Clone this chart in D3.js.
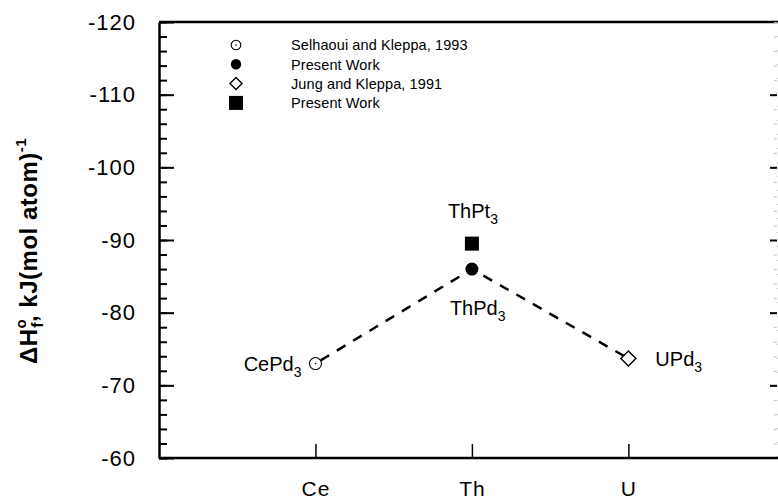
<!DOCTYPE html>
<html>
<head>
<meta charset="utf-8">
<script src="https://cdn.jsdelivr.net/npm/d3@7"></script>
<style>
    body { margin: 0; background: #fff; }
    svg text { font-family: "Liberation Sans", Arial, Helvetica, sans-serif; fill: #000; }
</style>
</head>
<body>
<div id="chart"></div>
<script>
// data
const elements = ["Ce", "Th", "U"];
const elementPos = [1, 2, 3];
const compounds = ["CePd", "ThPd", "UPd"];
const enthalpies = [-73.0, -86.0, -73.7];
const markerTypes = ["dotcircle", "circle", "diamond"];
const ptCompound = "ThPt";
const ptElementPos = 2;
const ptEnthalpy = -89.5;
const legendLabels = ["Selhaoui and Kleppa, 1993", "Present  Work", "Jung and Kleppa, 1991", "Present  Work"];
const legendMarkers = ["dotcircle", "circle", "diamond", "square"];
const yMajorTicks = [-120, -110, -100, -90, -80, -70, -60];
const yMinorTicks = d3.range(-120, -59, 2);

const W = 778, H = 502;
const svg = d3.select("#chart").append("svg")
    .attr("width", W)
    .attr("height", H);

const x = d3.scaleLinear().domain([0, 3.95]).range([159, 777]);
const y = d3.scaleLinear().domain([-120, -60]).range([22, 458]);

// marker drawing
function drawMarker(g, type, cx, cy, big) {
    let s = big ? 1 : 0.8;
    if (type === "dotcircle") {
        g.append("circle").attr("cx", cx).attr("cy", cy).attr("r", 6 * s)
            .attr("fill", "#fff").attr("stroke", "#000").attr("stroke-width", 1.1);
        g.append("circle").attr("cx", cx).attr("cy", cy).attr("r", 0.8)
            .attr("fill", "#000");
    } else if (type === "circle") {
        g.append("circle").attr("cx", cx).attr("cy", cy).attr("r", 6.5 * s)
            .attr("fill", "#000");
    } else if (type === "diamond") {
        let r = 7.5 * s;
        g.append("path")
            .attr("d", `M${cx},${cy - r}L${cx + r},${cy}L${cx},${cy + r}L${cx - r},${cy}Z`)
            .attr("fill", "#fff").attr("stroke", "#000").attr("stroke-width", 1.4);
    } else if (type === "square") {
        let h = 7;
        g.append("rect").attr("x", cx - h).attr("y", cy - h)
            .attr("width", 2 * h).attr("height", 2 * h).attr("fill", "#000");
    }
}

// frame: top and faint right edge
svg.append("line").attr("x1", 159).attr("x2", W).attr("y1", 22).attr("y2", 22)
    .attr("stroke", "#000").attr("stroke-width", 2.5);
svg.append("line").attr("x1", 777).attr("x2", 777).attr("y1", 22).attr("y2", 458)
    .attr("stroke", "#bbb").attr("stroke-width", 1).attr("stroke-dasharray", "1,13");

// left axis: minor + major ticks inward
let yMinor = d3.axisLeft(y).tickValues(yMinorTicks).tickSizeInner(-8).tickSizeOuter(0).tickFormat("");
let yMajor = d3.axisLeft(y).tickValues(yMajorTicks).tickSizeInner(-15).tickSizeOuter(0).tickPadding(23)
    .tickFormat(d => String(d));

let gyMinor = svg.append("g").attr("transform", "translate(159,0)").call(yMinor);
let gy = svg.append("g").attr("transform", "translate(159,0)").call(yMajor);
gy.select(".domain").attr("stroke-width", 2.5);
gyMinor.select(".domain").remove();
svg.selectAll(".tick line").attr("stroke-width", 2);
gy.selectAll("text")
    .attr("font-size", 22)
    .style("letter-spacing", "1px");

// right axis ticks (pointing inward)
let rMinor = d3.axisRight(y).tickValues(yMinorTicks).tickSizeInner(-3).tickSizeOuter(0).tickFormat("");
let rMajor = d3.axisRight(y).tickValues(yMajorTicks.slice(1, -1)).tickSizeInner(-7).tickSizeOuter(0).tickFormat("");
let grMinor = svg.append("g").attr("transform", "translate(777,0)").call(rMinor);
grMinor.select(".domain").remove();
grMinor.selectAll("line").attr("stroke", "#bbb").attr("stroke-width", 1);
let grMajor = svg.append("g").attr("transform", "translate(777,0)").call(rMajor);
grMajor.select(".domain").remove();
grMajor.selectAll("line").attr("stroke-width", 2);

// bottom axis
let xAxis = d3.axisBottom(x).tickValues(elementPos).tickSizeInner(-14).tickSizeOuter(0).tickPadding(23)
    .tickFormat((d, i) => elements[i]);
let gx = svg.append("g").attr("transform", "translate(0,458)").call(xAxis);
gx.select(".domain").attr("d", `M159,0H${W}`).attr("stroke-width", 2.5);
gx.selectAll(".tick line").attr("stroke-width", 1.5);
gx.selectAll("text").attr("font-size", 21).style("letter-spacing", "1px");

// y axis title
let yTitle = svg.append("text")
    .attr("transform", "translate(37,251) rotate(-90)")
    .attr("text-anchor", "middle")
    .attr("font-size", 24)
    .attr("font-weight", "bold")
    .style("letter-spacing", "0.5px");
yTitle.append("tspan").text("ΔH");
yTitle.append("tspan").attr("font-size", 15).attr("dy", -11).text("o");
yTitle.append("tspan").attr("font-size", 16).attr("dx", -9).attr("dy", 17).text("f");
yTitle.append("tspan").attr("dy", -6).text(", kJ(mol atom)");
yTitle.append("tspan").attr("font-size", 15).attr("dy", -11).text("-1");

// dashed connecting line through the Pd3 points
let line = d3.line().x((d, i) => x(elementPos[i])).y(d => y(d));
svg.append("path")
    .datum(enthalpies)
    .attr("d", line)
    .attr("fill", "none")
    .attr("stroke", "#000")
    .attr("stroke-width", 2.5)
    .attr("stroke-dasharray", "10,9")
    .attr("stroke-dashoffset", -6);

// markers
let gm = svg.append("g");
enthalpies.forEach((v, i) => drawMarker(gm, markerTypes[i], x(elementPos[i]), y(v), true));
drawMarker(gm, "square", x(ptElementPos), y(ptEnthalpy), true);

// compound labels with subscript 3
function compoundLabel(name, px, py, anchor) {
    let t = svg.append("text").attr("x", px).attr("y", py)
        .attr("font-size", 20).attr("text-anchor", anchor);
    t.append("tspan").text(name);
    t.append("tspan").attr("font-size", 14).attr("dy", 6).text("3");
    return t;
}
compoundLabel(compounds[0], x(elementPos[0]) - 14, y(enthalpies[0]) + 7, "end");
compoundLabel(compounds[1], x(elementPos[1]) - 22, y(enthalpies[1]) + 46, "start");
compoundLabel(compounds[2], x(elementPos[2]) + 27, y(enthalpies[2]) + 8, "start");
compoundLabel(ptCompound, x(ptElementPos) - 24, y(ptEnthalpy) - 26, "start");

// legend
let legend = svg.append("g");
legendLabels.forEach((lab, i) => {
    let ly = 45 + i * 19.3;
    drawMarker(legend, legendMarkers[i], 236, ly, false);
    legend.append("text")
        .attr("x", 291).attr("y", ly).attr("dy", "0.36em")
        .attr("font-size", 14.5)
        .style("letter-spacing", "0.1px")
        .text(lab);
});
</script>
</body>
</html>
